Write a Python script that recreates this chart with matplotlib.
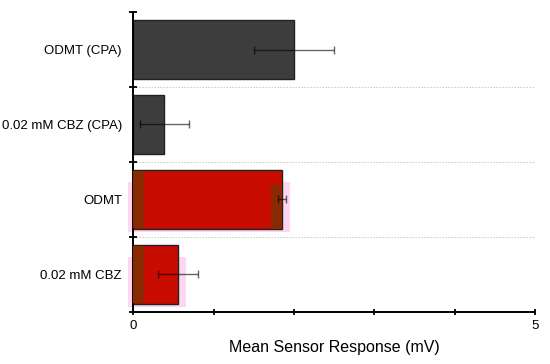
import matplotlib.pyplot as plt
import numpy as np

plt.rcParams['font.family'] = ['Liberation Sans', 'DejaVu Sans']

labels = ['ODMT (CPA)', '0.02 mM CBZ (CPA)', 'ODMT', '0.02 mM CBZ']
means = [2.0, 0.39, 1.85, 0.56]
errors = [0.5, 0.3, 0.05, 0.25]
colors = ['#3d3d3d', '#3d3d3d', '#c80c00', '#c80c00']

fig = plt.figure(figsize=(5.5, 3.64), dpi=100)
ax = fig.add_axes([0.242, 0.143, 0.731, 0.824])

n = len(labels)
ypos = np.arange(n)[::-1]
h = 0.78

for y, m, c in zip(ypos, means, colors):
    if c != '#3d3d3d':
        # pinkish halo + brown strips seen on the red bars
        ax.barh(y - 0.1, m + 0.16, height=0.66, left=-0.06, color='#ffd6f2',
                zorder=1, clip_on=False)
        ax.barh(y, 0.14, height=h - 0.02, left=0, color='#8a2a00', zorder=3)
        if m > 1:
            ax.barh(y - 0.1, 0.13, height=0.58, left=m - 0.13, color='#8a2a00', zorder=3)
    ax.barh(y, m, height=h, color=c, edgecolor='#222222', linewidth=1, zorder=2)

ax.errorbar(means, ypos, xerr=errors, fmt='none', ecolor='black', alpha=0.6,
            elinewidth=1, capsize=3, capthick=1, zorder=4)

# dotted separators between categories
for b in np.arange(n - 1) + 0.5:
    ax.axhline(b, color='#c4c4c4', linestyle=(0, (1.2, 1.5)), linewidth=0.8, zorder=0)

ax.set_xlim(0, 5)
ax.set_ylim(-0.5, n - 0.5)
ax.set_xticks([0, 1, 2, 3, 4, 5])
ax.set_xticklabels(['0', '', '', '', '', '5'])
ax.set_yticks(ypos)
ax.set_yticklabels(labels)
ax.set_yticks(np.arange(n + 1) - 0.5, minor=True)
ax.tick_params(axis='y', which='major', length=0, labelsize=9.5, pad=8)
ax.tick_params(axis='y', which='minor', length=6, direction='inout', width=1.3)
ax.tick_params(axis='x', length=5, direction='inout', width=1.3, labelsize=9.5, pad=3)

for s in ['top', 'right']:
    ax.spines[s].set_visible(False)
for s in ['left', 'bottom']:
    ax.spines[s].set_linewidth(1.4)

ax.set_xlabel('Mean Sensor Response (mV)', fontsize=11.5, labelpad=6)

fig.savefig('out.png', dpi=100)
